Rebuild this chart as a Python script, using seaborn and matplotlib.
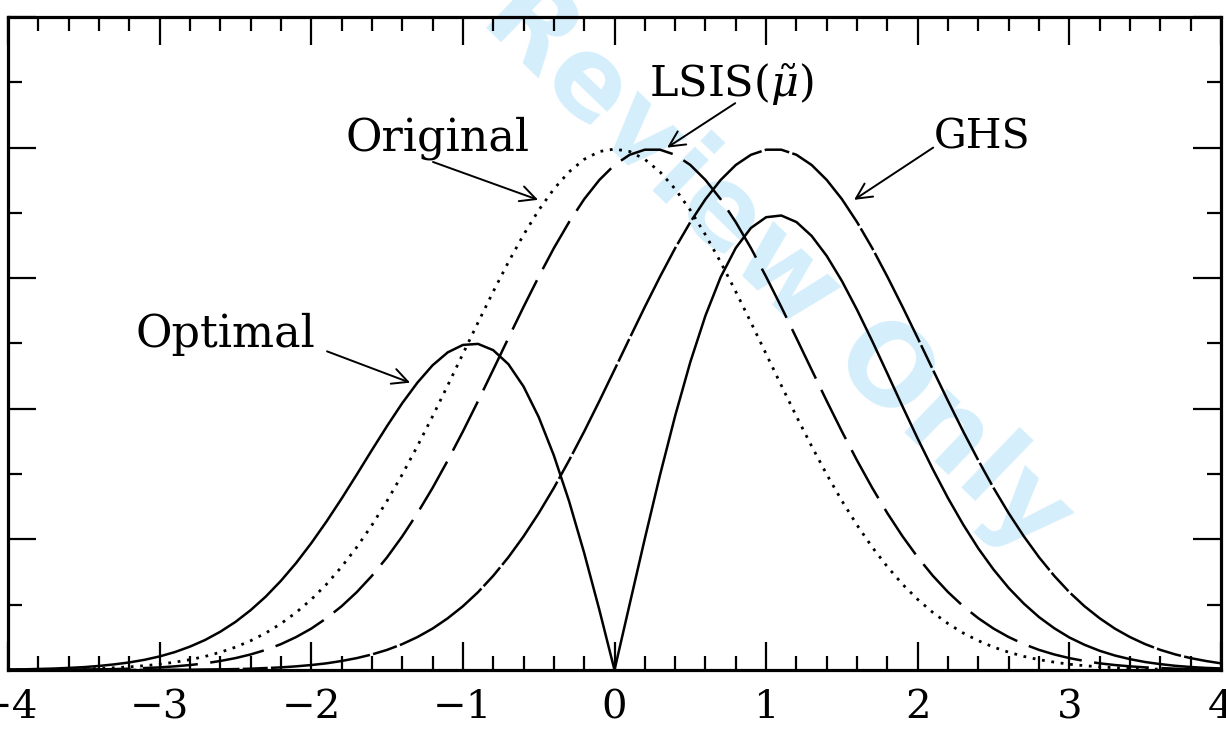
import numpy as np
import matplotlib
matplotlib.use("Agg")
import matplotlib.pyplot as plt
from matplotlib.ticker import MultipleLocator
import seaborn as sns

# -----------------------------
# Data
# -----------------------------
x_grid = np.round(np.linspace(-4, 4, 81), 1)

original = [
    0.0001, 0.0002, 0.0003, 0.0004, 0.0006, 0.0009, 0.0012, 0.0017, 0.0024, 0.0033,
    0.0044, 0.0060, 0.0079, 0.0104, 0.0136, 0.0175, 0.0224, 0.0283, 0.0355, 0.0440,
    0.0540, 0.0656, 0.0790, 0.0940, 0.1109, 0.1295, 0.1497, 0.1714, 0.1942, 0.2179,
    0.2420, 0.2661, 0.2897, 0.3123, 0.3332, 0.3521, 0.3683, 0.3814, 0.3910, 0.3970,
    0.3989, 0.3970, 0.3910, 0.3814, 0.3683, 0.3521, 0.3332, 0.3123, 0.2897, 0.2661,
    0.2420, 0.2179, 0.1942, 0.1714, 0.1497, 0.1295, 0.1109, 0.0940, 0.0790, 0.0656,
    0.0540, 0.0440, 0.0355, 0.0283, 0.0224, 0.0175, 0.0136, 0.0104, 0.0079, 0.0060,
    0.0044, 0.0033, 0.0024, 0.0017, 0.0012, 0.0009, 0.0006, 0.0004, 0.0003, 0.0002,
    0.0001,
]

lsis = [
    0.0000, 0.0001, 0.0001, 0.0002, 0.0002, 0.0004, 0.0005, 0.0007, 0.0010, 0.0015,
    0.0020, 0.0028, 0.0038, 0.0051, 0.0069, 0.0091, 0.0119, 0.0154, 0.0198, 0.0252,
    0.0317, 0.0396, 0.0488, 0.0596, 0.0721, 0.0863, 0.1023, 0.1200, 0.1394, 0.1604,
    0.1826, 0.2059, 0.2299, 0.2541, 0.2780, 0.3011, 0.3230, 0.3429, 0.3605, 0.3752,
    0.3867, 0.3945, 0.3984, 0.3984, 0.3945, 0.3867, 0.3752, 0.3605, 0.3429, 0.3230,
    0.3011, 0.2780, 0.2541, 0.2299, 0.2059, 0.1826, 0.1604, 0.1394, 0.1200, 0.1023,
    0.0863, 0.0721, 0.0596, 0.0488, 0.0396, 0.0317, 0.0252, 0.0198, 0.0154, 0.0119,
    0.0091, 0.0069, 0.0051, 0.0038, 0.0028, 0.0020, 0.0015, 0.0010, 0.0007, 0.0005,
    0.0004,
]

ghs = [
    0.0000, 0.0000, 0.0000, 0.0000, 0.0000, 0.0000, 0.0000, 0.0000, 0.0000, 0.0001,
    0.0001, 0.0002, 0.0002, 0.0004, 0.0005, 0.0007, 0.0010, 0.0015, 0.0020, 0.0028,
    0.0038, 0.0051, 0.0069, 0.0091, 0.0119, 0.0154, 0.0198, 0.0252, 0.0317, 0.0396,
    0.0488, 0.0596, 0.0721, 0.0863, 0.1023, 0.1200, 0.1394, 0.1604, 0.1826, 0.2059,
    0.2299, 0.2541, 0.2780, 0.3011, 0.3230, 0.3429, 0.3605, 0.3752, 0.3867, 0.3945,
    0.3984, 0.3984, 0.3945, 0.3867, 0.3752, 0.3605, 0.3429, 0.3230, 0.3011, 0.2780,
    0.2541, 0.2299, 0.2059, 0.1826, 0.1604, 0.1394, 0.1200, 0.1023, 0.0863, 0.0721,
    0.0596, 0.0488, 0.0396, 0.0317, 0.0252, 0.0198, 0.0154, 0.0119, 0.0091, 0.0069,
    0.0051,
]

optimal = [
    0.0004, 0.0005, 0.0008, 0.0011, 0.0016, 0.0022, 0.0031, 0.0043, 0.0058, 0.0078,
    0.0104, 0.0137, 0.0179, 0.0230, 0.0293, 0.0368, 0.0458, 0.0562, 0.0683, 0.0819,
    0.0971, 0.1136, 0.1312, 0.1496, 0.1684, 0.1868, 0.2043, 0.2200, 0.2333, 0.2432,
    0.2489, 0.2497, 0.2449, 0.2342, 0.2171, 0.1937, 0.1643, 0.1294, 0.0896, 0.0461,
    0.0000, 0.0504, 0.1006, 0.1492, 0.1946, 0.2358, 0.2714, 0.3008, 0.3232, 0.3385,
    0.3467, 0.3480, 0.3430, 0.3324, 0.3170, 0.2978, 0.2757, 0.2518, 0.2269, 0.2017,
    0.1771, 0.1536, 0.1315, 0.1113, 0.0930, 0.0769, 0.0628, 0.0508, 0.0405, 0.0320,
    0.0249, 0.0193, 0.0147, 0.0111, 0.0083, 0.0061, 0.0045, 0.0032, 0.0023, 0.0016,
    0.0012,
]

x_ticks = [-4, -3, -2, -1, 0, 1, 2, 3, 4]

# -----------------------------
# Style
# -----------------------------
sns.set_style("ticks")
plt.rcParams["font.family"] = ["DejaVu Serif"]
plt.rcParams["mathtext.fontset"] = "dejavuserif"
plt.rcParams["text.color"] = "black"
plt.rcParams["xtick.color"] = "black"
plt.rcParams["ytick.color"] = "black"
plt.rcParams["xtick.labelcolor"] = "black"

fig = plt.figure(figsize=(12.26, 7.35), dpi=100)
ax = fig.add_axes([8 / 1226, 65 / 735, 1213 / 1226, 653 / 735])

# watermark
ax.text(1.07, 0.308, "Review Only", rotation=-44, fontsize=80,
        fontweight="bold", family="DejaVu Sans", color="#d4eefb",
        ha="center", va="center", rotation_mode="anchor", zorder=0)

# -----------------------------
# Curves
# -----------------------------
sns.lineplot(x=x_grid, y=original, ax=ax, color="black",
             linewidth=2.0, linestyle=(0, (1, 2.4)))
sns.lineplot(x=x_grid, y=lsis, ax=ax, color="black",
             linewidth=1.8, linestyle=(0, (22, 5)))
sns.lineplot(x=x_grid, y=ghs, ax=ax, color="black",
             linewidth=1.8, linestyle=(0, (40, 1.3, 10, 1.3)))
sns.lineplot(x=x_grid, y=optimal, ax=ax, color="black",
             linewidth=1.8, linestyle="-")

# -----------------------------
# Labels with arrows
# -----------------------------
arrow = dict(arrowstyle="->", color="black", lw=1.4,
             mutation_scale=28, shrinkA=0, shrinkB=0)

ax.text(-1.17, 0.398, "Original", fontsize=32, color="black",
        ha="center", va="baseline")
ax.annotate("", xy=(-0.504, 0.360), xytext=(-1.197, 0.389), arrowprops=arrow)

ax.text(0.769, 0.439, r"LSIS($\tilde{\mu}$)", fontsize=31, color="black",
        ha="center", va="baseline")
ax.annotate("", xy=(0.347, 0.400), xytext=(0.796, 0.434), arrowprops=arrow)

ax.text(2.425, 0.399, "GHS", fontsize=29.5, color="black",
        ha="center", va="baseline")
ax.annotate("", xy=(1.580, 0.360), xytext=(2.102, 0.400), arrowprops=arrow)

ax.text(-2.569, 0.247, "Optimal", fontsize=32, color="black",
        ha="center", va="baseline")
ax.annotate("", xy=(-1.348, 0.220), xytext=(-1.896, 0.244), arrowprops=arrow)

# -----------------------------
# Axes
# -----------------------------
ax.set_xlim(-4, 4)
ax.set_ylim(0, 0.5)
ax.set_xticks(x_ticks)
ax.set_xticklabels([f"{t}".replace("-", "\u2212") for t in x_ticks])
ax.xaxis.set_minor_locator(MultipleLocator(0.2))
ax.yaxis.set_major_locator(MultipleLocator(0.1))
ax.yaxis.set_minor_locator(MultipleLocator(0.05))
ax.tick_params(which="both", direction="in", top=True, right=True,
               left=True, bottom=True, labelleft=False, color="black")
ax.tick_params(which="major", length=20, width=1.6, labelsize=29, pad=14,
               labelcolor="black")
ax.tick_params(which="minor", length=10, width=1.6)
for side in ax.spines.values():
    side.set_linewidth(2.3)
    side.set_color("black")
ax.set_xlabel("")
ax.set_ylabel("")

fig.savefig("out.png", dpi=100)
plt.close(fig)
print("Saved -> out.png")
